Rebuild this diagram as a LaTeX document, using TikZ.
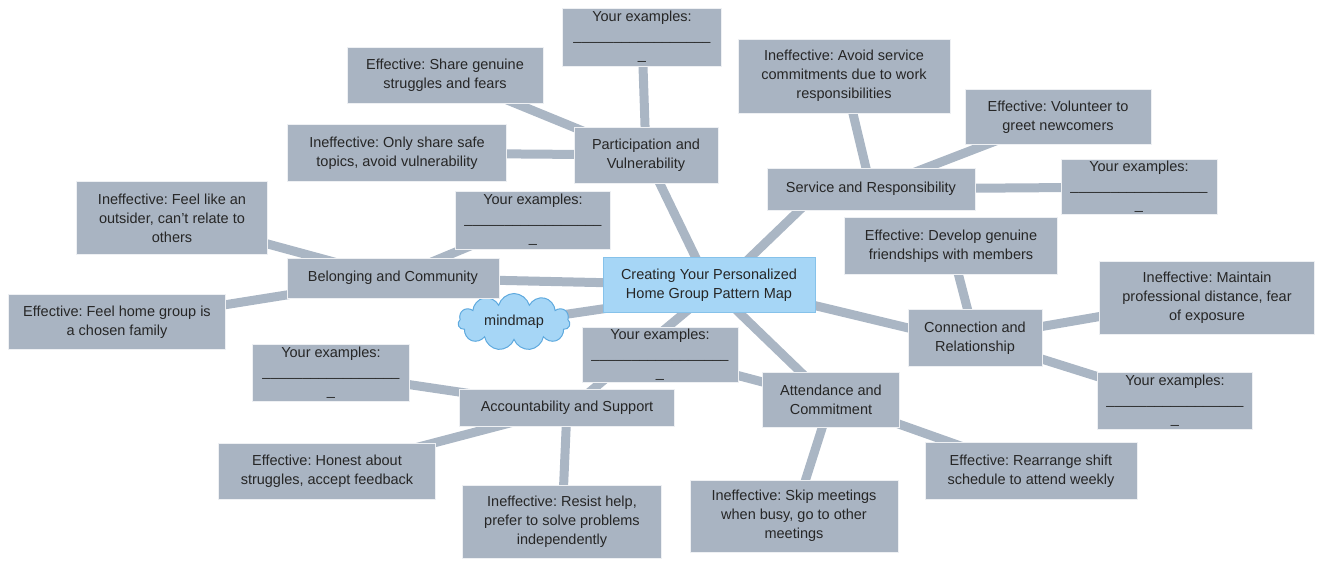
\documentclass[tikz,border=0pt]{standalone}
\usepackage{fontspec}
\setmainfont{Liberation Sans}
\usetikzlibrary{backgrounds,shapes.symbols}
\definecolor{boxgray}{HTML}{A9B4C2}
\definecolor{linegray}{HTML}{AAB6C4}
\definecolor{hubblue}{HTML}{A6D6F6}
\definecolor{hubedge}{HTML}{86C2EA}
\definecolor{cloudedge}{HTML}{5EA9DE}
\newcommand{\fillin}{Your examples:\\\_\_\_\_\_\_\_\_\_\_\_\_\_\_\_\_\_\\\_}
\frenchspacing
\begin{document}
\begin{tikzpicture}[x=1pt, y=-1pt,
        every node/.style={font=\fontsize{14.5}{19}\selectfont, text=black!85, align=center, inner sep=2pt},
        leaf/.style={fill=boxgray, draw=white!80!boxgray, line width=1pt},
        hubbox/.style={fill=hubblue, draw=hubedge, line width=1pt},
        branch/.style={draw=linegray, line width=9pt}]
    \useasboundingbox (0,0) rectangle (1324,570);
    \node[hubbox, minimum width=212, minimum height=55] (hub) at (709,285) {Creating Your Personalized\\Home Group Pattern Map};
    \node[cloud, cloud puffs=11, aspect=2.3, fill=hubblue, draw=cloudedge, line width=1pt, minimum width=112, minimum height=50] (mind) at (514,322) {mindmap};

    \node[leaf, minimum width=144, minimum height=56] (part) at (646,155) {Participation and\\Vulnerability};
    \node[leaf, minimum width=159, minimum height=58] (partEx) at (642,37) {\fillin};
    \node[leaf, minimum width=196, minimum height=56] (partEff) at (445,75) {Effective: Share genuine\\struggles and fears};
    \node[leaf, minimum width=219, minimum height=57] (partIn) at (397,153) {Ineffective: Only share safe\\topics, avoid vulnerability};

    \node[leaf, minimum width=208, minimum height=42] (svc) at (871,189) {Service and Responsibility};
    \node[leaf, minimum width=212, minimum height=74] (svcIn) at (844,76) {Ineffective: Avoid service\\commitments due to work\\responsibilities};
    \node[leaf, minimum width=186, minimum height=55] (svcEff) at (1058,117) {Effective: Volunteer to\\greet newcomers};
    \node[leaf, minimum width=156, minimum height=55] (svcEx) at (1139,187) {\fillin};

    \node[leaf, minimum width=212, minimum height=40] (bel) at (393,278) {Belonging and Community};
    \node[leaf, minimum width=191, minimum height=73] (belIn) at (172,218) {Ineffective: Feel like an\\outsider, can't relate to\\others};
    \node[leaf, minimum width=217, minimum height=55] (belEff) at (117,322) {Effective: Feel home group is\\a chosen family};
    \node[leaf, minimum width=155, minimum height=58] (belEx) at (533,220) {\fillin};

    \node[leaf, minimum width=134, minimum height=57] (con) at (975,338) {Connection and\\Relationship};
    \node[leaf, minimum width=213, minimum height=57] (conEff) at (951,246) {Effective: Develop genuine\\friendships with members};
    \node[leaf, minimum width=215, minimum height=73] (conIn) at (1207,298) {Ineffective: Maintain\\professional distance, fear\\of exposure};
    \node[leaf, minimum width=155, minimum height=57] (conEx) at (1175,401) {\fillin};

    \node[leaf, minimum width=137, minimum height=55] (att) at (831,400) {Attendance and\\Commitment};
    \node[leaf, minimum width=208, minimum height=72] (attIn) at (794,516) {Ineffective: Skip meetings\\when busy, go to other\\meetings};
    \node[leaf, minimum width=212, minimum height=57] (attEff) at (1031,471) {Effective: Rearrange shift\\schedule to attend weekly};
    \node[leaf, minimum width=156, minimum height=55] (attEx) at (660,355) {\fillin};

    \node[leaf, minimum width=215, minimum height=37] (acc) at (567,408) {Accountability and Support};
    \node[leaf, minimum width=157, minimum height=57] (accEx) at (331,373) {\fillin};
    \node[leaf, minimum width=217, minimum height=56] (accEff) at (327,471) {Effective: Honest about\\struggles, accept feedback};
    \node[leaf, minimum width=199, minimum height=73] (accIn) at (562,522) {Ineffective: Resist help,\\prefer to solve problems\\independently};

    \begin{scope}[on background layer]
        \draw[branch] (mind.center) -- ([shift={(-80,20)}]hub.center);
        \draw[branch] (hub.center) -- (part.center);
        \draw[branch] ([shift={(23,-10)}]hub.center) -- ([shift={(-61,11)}]svc.center);
        \draw[branch] (hub.center) -- (bel.center);
        \draw[branch] ([shift={(-9,15)}]hub.center) -- ([shift={(13,-8)}]acc.center);
        \draw[branch] ([shift={(17,15)}]hub.center) -- ([shift={(-19,-17)}]att.center);
        \draw[branch] ([shift={(91,17)}]hub.center) -- ([shift={(-50,-6)}]con.center);
        \draw[branch] (part.center) -- (partEx.center);
        \draw[branch] ([shift={(-46,-17)}]part.center) -- ([shift={(45,18)}]partEff.center);
        \draw[branch] (part.center) -- (partIn.center);
        \draw[branch] (svc.center) -- (svcIn.center);
        \draw[branch] (svc.center) -- (svcEff.center);
        \draw[branch] (svc.center) -- (svcEx.center);
        \draw[branch] (bel.center) -- (belIn.center);
        \draw[branch] (bel.center) -- (belEff.center);
        \draw[branch] (bel.center) -- (belEx.center);
        \draw[branch] (con.center) -- (conEff.center);
        \draw[branch] (con.center) -- (conIn.center);
        \draw[branch] (con.center) -- (conEx.center);
        \draw[branch] (att.center) -- (attIn.center);
        \draw[branch] (att.center) -- (attEff.center);
        \draw[branch] (att.center) -- (attEx.center);
        \draw[branch] (acc.center) -- (accEx.center);
        \draw[branch] (acc.center) -- (accEff.center);
        \draw[branch] (acc.center) -- (accIn.center);
    \end{scope}
\end{tikzpicture}
\end{document}
